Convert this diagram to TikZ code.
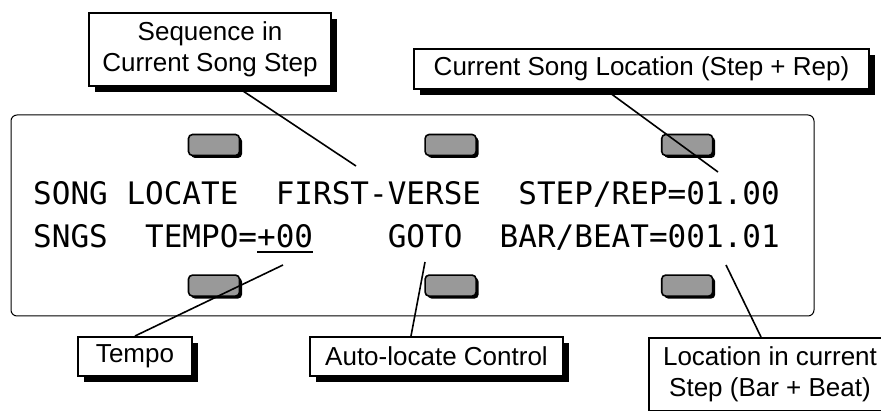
\documentclass[tikz,border=0pt]{standalone}
\usepackage{fontspec}
\setmainfont{Liberation Sans}
\newfontfamily\lcdfont{DejaVu Sans Mono}
\usetikzlibrary{positioning}
\usetikzlibrary{shadows}

\tikzset{
  callout/.style={draw, line width=2pt, fill=white, align=center, inner sep=0pt,
    font=\fontsize{26}{31}\selectfont,
    drop shadow={shadow xshift=6pt, shadow yshift=-6pt, opacity=1, fill=black}},
  softkey/.style={draw, line width=1.6pt, fill=black!40, rounded corners=4pt,
    minimum width=51pt, minimum height=21pt, inner sep=0pt,
    drop shadow={shadow xshift=2.5pt, shadow yshift=-2.5pt, opacity=1, fill=black}},
  lcdrow/.style={anchor=base west, inner sep=0pt, font=\lcdfont\fontsize{31}{31}\selectfont},
  leader/.style={line width=1.6pt}
}

\begin{document}
\begin{tikzpicture}[x=1pt, y=-1pt]
\useasboundingbox (0,0) rectangle (881,411);
\clip (0,0) rectangle (881,411);
% -- display panel --
\draw[line width=1pt, rounded corners=6pt] (11,115) rectangle (814,316);
% -- soft keys --
\node[softkey] (k1) at (214,145) {};
\node[softkey, right=184pt of k1] (k2) {};
\node[softkey, right=184pt of k2] (k3) {};
\node[softkey, below=118pt of k1] (k4) {};
\node[softkey, below=118pt of k2] (k5) {};
\node[softkey, below=118pt of k3] (k6) {};
% -- lcd text --
\node[lcdrow] (row1) at (33,205) {SONG~LOCATE~~FIRST-VERSE~~STEP/REP=01.00};
\node[lcdrow] (row2) at (33,248) {SNGS~~TEMPO=+00~~~~GOTO~~BAR/BEAT=001.01};
\draw[line width=2pt] ([xshift=224pt, yshift=-4pt]row2.base west) -- ([xshift=280pt, yshift=-4pt]row2.base west);
% -- callouts --
\node[callout, minimum width=242pt, minimum height=73pt] (seqbox) at (210,49.5) {Sequence in\\Current Song Step};
\node[callout, minimum width=455pt, minimum height=40pt] (locbox) at (641.5,69) {Current Song Location (Step + Rep)};
\node[callout, minimum width=114pt, minimum height=39pt] (tempobox) at (135,356.5) {Tempo};
\node[callout, minimum width=253pt, minimum height=39pt] (autobox) at (436.5,356.5) {Auto-locate Control};
\node[callout, minimum width=242pt, minimum height=73pt] (barbox) at (770,374.5) {Location in current\\Step (Bar + Beat)};
% -- leader tips --
\coordinate (seqtip) at (356,166);
\coordinate (loctip) at (718,172);
\coordinate (tempotip) at (283,265);
\coordinate (autotip) at (425,262);
\coordinate (bartip) at (726,265);
\draw[leader] ([xshift=27pt]seqbox.south) -- (seqtip);
\draw[leader] ([xshift=-35.5pt]locbox.south) -- (loctip);
\draw[leader] (tempobox.north) -- (tempotip);
\draw[leader] ([xshift=-25.5pt]autobox.north) -- (autotip);
\draw[leader] ([xshift=-9pt]barbox.north) -- (bartip);
\end{tikzpicture}
\end{document}
